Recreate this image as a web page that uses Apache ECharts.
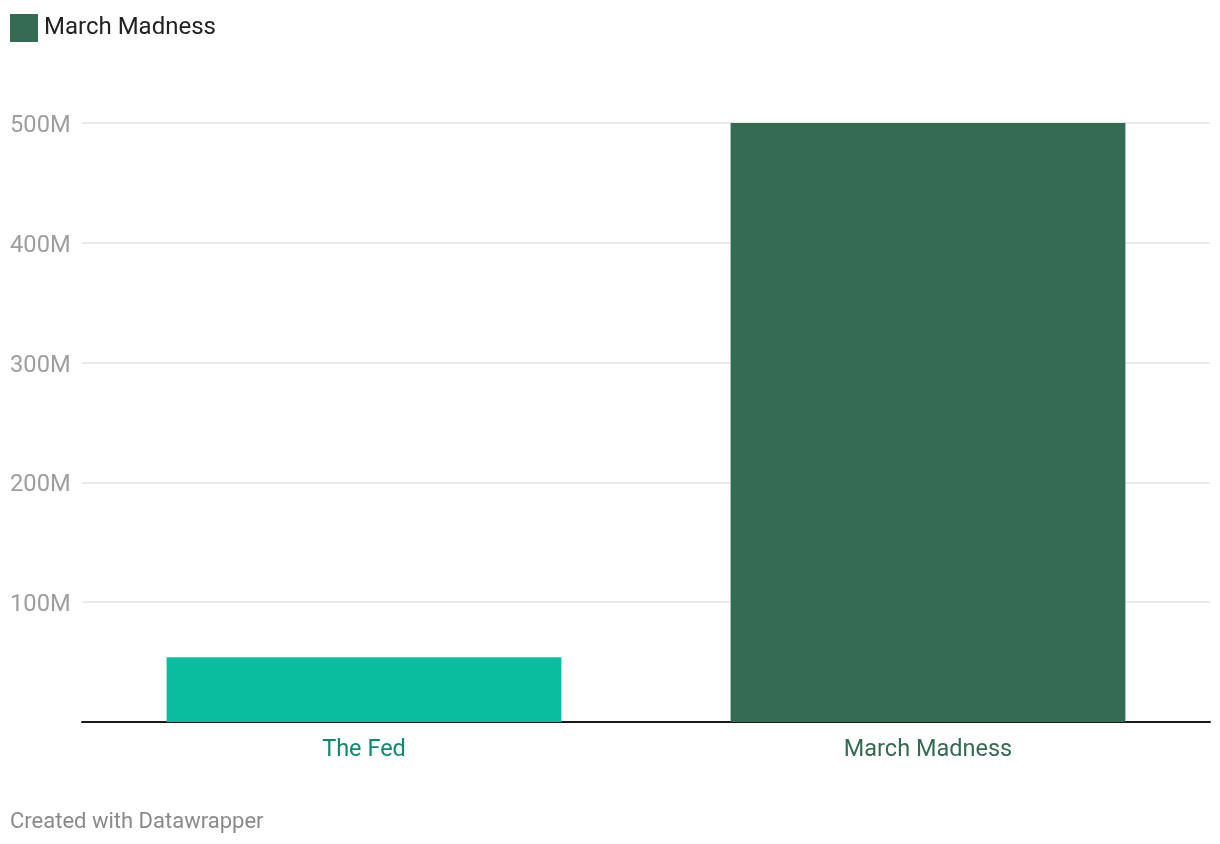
<!DOCTYPE html>
<html>
<head>
<meta charset="utf-8">
<script src="https://cdn.jsdelivr.net/npm/echarts@6/dist/echarts.min.js"></script>
<style>
html,body{margin:0;padding:0;background:#fff;}
#chart{width:1220px;height:844px;}
</style>
</head>
<body>
<div id="chart"></div>
<script>
const categories = ['The Fed', 'March Madness'];
const values = [54, 500]; // millions
const barColors = ['#0bbd9f', '#356a53'];
const labelColors = ['#0a8a70', '#356a53'];
const yTicks = [0, 100, 200, 300, 400, 500];

const chart = echarts.init(document.getElementById('chart'));
const font = 'Roboto, "Noto Sans", sans-serif';
chart.setOption({
  animation: false,
  textStyle: { fontFamily: font },
  title: {
    text: 'Created with Datawrapper',
    left: 10, top: 811, padding: 0,
    textStyle: { fontFamily: font, fontSize: 22, fontWeight: 'normal', color: '#8a8a8a' }
  },
  legend: {
    left: 10, top: 14, padding: 0,
    itemWidth: 28, itemHeight: 28, icon: 'rect',
    textStyle: { fontFamily: font, fontSize: 24, color: '#222', padding: [3, 0, 0, 1] },
    data: ['March Madness']
  },
  grid: { left: 82, right: 10, top: 123, bottom: 122 },
  xAxis: {
    type: 'category',
    data: categories,
    axisLine: { lineStyle: { color: '#1a1a1a', width: 2 } },
    axisTick: { show: false },
    axisLabel: {
      margin: 16,
      fontSize: 23.5,
      fontFamily: font,
      color: function (v, i) { return labelColors[categories.indexOf(v)]; }
    }
  },
  yAxis: {
    type: 'value',
    min: yTicks[0], max: yTicks[yTicks.length - 1], interval: 100,
    axisLine: { show: false },
    axisTick: { show: false },
    splitLine: { lineStyle: { color: '#e3e3e3', width: 1.5 } },
    axisLabel: {
      align: 'left', margin: 72,
      formatter: function (v) { return v === 0 ? '' : '{v|' + v + 'M}'; },
      rich: {
        v: { fontSize: 23.7, fontFamily: font, color: '#9e9e9e', lineHeight: 30, verticalAlign: 'bottom' }
      }
    }
  },
  series: [{
    name: 'March Madness',
    type: 'bar',
    barWidth: '70%',
    itemStyle: { color: '#356a53' },
    data: values.map((v, i) => ({ value: v, itemStyle: { color: barColors[i] } }))
  }]
});
</script>
</body>
</html>
